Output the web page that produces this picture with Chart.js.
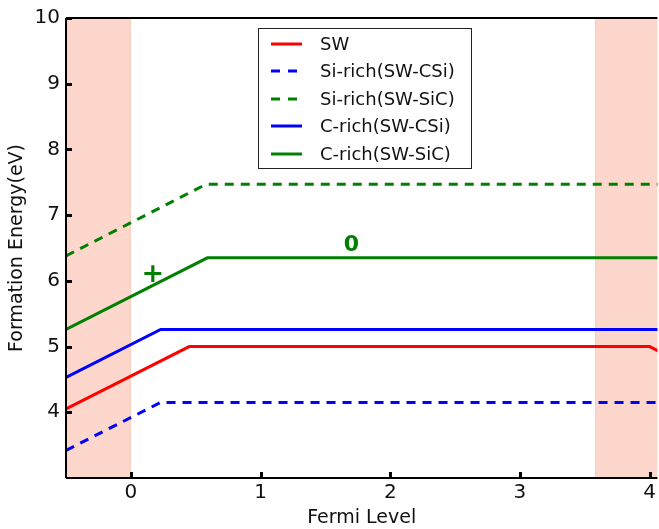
<!DOCTYPE html>
<html>
<head>
<meta charset="utf-8">
<script src="https://cdn.jsdelivr.net/npm/chart.js@4.4.0/dist/chart.umd.min.js"></script>
<style>
  html, body { margin: 0; padding: 0; background: #fff; }
  #wrap { width: 659px; height: 529px; }
</style>
</head>
<body>
<div id="wrap"><canvas id="chart" width="659" height="529"></canvas></div>
<script>
'use strict';

// Data
var swX = [-0.5, 0.45, 4.0, 4.1];
var swY = [4.05, 5.0, 5.0, 4.9];
var siCSiX = [-0.5, 0.23, 4.1];
var siCSiY = [3.42, 4.15, 4.15];
var siSiCX = [-0.5, 0.58, 4.1];
var siSiCY = [6.38, 7.47, 7.47];
var cCSiX = [-0.5, 0.23, 4.1];
var cCSiY = [4.53, 5.26, 5.26];
var cSiCX = [-0.5, 0.59, 4.1];
var cSiCY = [5.26, 6.35, 6.35];

var xTicks = [0, 1, 2, 3, 4];
var yTicks = [4, 5, 6, 7, 8, 9, 10];

// shaded Fermi-level bands
var bandStart = [-0.5, 3.58];
var bandEnd = [0, 4.2];

// charge-state labels
var stateText = ['+', '0'];
var stateX = [0.17, 1.70];
var stateY = [6.09, 6.54];
var stateSize = [27, 22];

var FONT = "'DejaVu Sans', sans-serif";

function pts(xs, ys) {
    return xs.map(function(x, i) { return { x: x, y: ys[i] }; });
}

function line(label, xs, ys, color, dash) {
    return {
        label: label,
        data: pts(xs, ys),
        borderColor: color,
        backgroundColor: color,
        borderWidth: 3,
        borderDash: dash || [],
        pointRadius: 0,
        showLine: true,
        fill: false,
        tension: 0
    };
}

var datasets = [
    line('SW', swX, swY, '#ff0000'),
    line('Si-rich(SW-CSi)', siCSiX, siCSiY, '#0000ff', [9, 7]),
    line('Si-rich(SW-SiC)', siSiCX, siSiCY, '#008000', [9, 7]),
    line('C-rich(SW-CSi)', cCSiX, cCSiY, '#0000ff'),
    line('C-rich(SW-SiC)', cSiCX, cSiCY, '#008000')
];

// bands behind the lines
var bandsPlugin = {
    id: 'bands',
    beforeDatasetsDraw: function(chart) {
        var ctx = chart.ctx, a = chart.chartArea;
        var xs = chart.scales.x;
        ctx.save();
        ctx.beginPath();
        ctx.rect(a.left, a.top, a.right - a.left, a.bottom - a.top);
        ctx.clip();
        bandStart.forEach(function(s, i) {
            var x0 = xs.getPixelForValue(s);
            var x1 = xs.getPixelForValue(bandEnd[i]);
            ctx.fillStyle = '#fdd7cb';
            ctx.fillRect(x0, a.top, x1 - x0, a.bottom - a.top);
            ctx.strokeStyle = '#fccbbb';
            ctx.lineWidth = 1;
            ctx.beginPath();
            ctx.moveTo(x0 + 0.5, a.top); ctx.lineTo(x0 + 0.5, a.bottom);
            ctx.moveTo(x1 - 0.5, a.top); ctx.lineTo(x1 - 0.5, a.bottom);
            ctx.stroke();
        });
        ctx.restore();
    }
};

// frame, inward ticks, labels and legend
var decorPlugin = {
    id: 'decor',
    afterDatasetsDraw: function(chart) {
        var ctx = chart.ctx, a = chart.chartArea;
        var xs = chart.scales.x, ys = chart.scales.y;
        ctx.save();

        ctx.fillStyle = '#008000';
        ctx.textAlign = 'center';
        ctx.textBaseline = 'middle';
        stateText.forEach(function(t, i) {
            ctx.font = 'bold ' + stateSize[i] + 'px ' + FONT;
            ctx.fillText(t, xs.getPixelForValue(stateX[i]), ys.getPixelForValue(stateY[i]));
        });

        ctx.strokeStyle = '#000';
        ctx.lineWidth = 2;
        ctx.beginPath();
        ctx.moveTo(a.left, a.top); ctx.lineTo(a.right, a.top);
        ctx.moveTo(a.left, a.top); ctx.lineTo(a.left, a.bottom);
        ctx.moveTo(a.left, a.bottom); ctx.lineTo(a.right, a.bottom);
        ctx.stroke();

        ctx.lineWidth = 3;
        ctx.beginPath();
        xTicks.forEach(function(v) {
            var px = Math.round(xs.getPixelForValue(v)) + 0.5;
            ctx.moveTo(px, a.bottom); ctx.lineTo(px, a.bottom - 6);
        });
        yTicks.forEach(function(v) {
            var py = Math.round(ys.getPixelForValue(v)) + 0.5;
            ctx.moveTo(a.left, py); ctx.lineTo(a.left + 6, py);
        });
        ctx.stroke();

        // legend box
        var lx = 258, ly = 28, lw = 213, lh = 140;
        ctx.fillStyle = '#fff';
        ctx.fillRect(lx, ly, lw, lh);
        ctx.strokeStyle = '#222';
        ctx.lineWidth = 1;
        ctx.strokeRect(lx + 0.5, ly + 0.5, lw, lh);
        ctx.font = '18px ' + FONT;
        ctx.textAlign = 'left';
        ctx.textBaseline = 'middle';
        chart.data.datasets.forEach(function(ds, i) {
            var y = Math.round(43.5 + i * 27.5);
            ctx.strokeStyle = ds.borderColor;
            ctx.lineWidth = 3;
            ctx.setLineDash(ds.borderDash.length ? [9, 8] : []);
            ctx.beginPath();
            ctx.moveTo(lx + 13, y); ctx.lineTo(lx + 44, y);
            ctx.stroke();
            ctx.setLineDash([]);
            ctx.fillStyle = '#111';
            ctx.fillText(ds.label, lx + 62, y + 1);
        });

        ctx.restore();
    }
};

var chart = new Chart(document.getElementById('chart'), {
    type: 'scatter',
    data: { datasets: datasets },
    plugins: [bandsPlugin, decorPlugin],
    options: {
        responsive: false,
        devicePixelRatio: 1,
        animation: false,
        layout: { padding: { top: 18, right: 0, left: 0, bottom: 0 } },
        plugins: {
            legend: { display: false },
            tooltip: { enabled: false }
        },
        scales: {
            x: {
                type: 'linear',
                min: -0.5,
                max: 4.06,
                grid: { display: false, drawTicks: false },
                border: { display: false },
                afterBuildTicks: function(scale) {
                    scale.ticks = xTicks.map(function(v) { return { value: v }; });
                },
                afterFit: function(scale) { scale.height = 51; },
                ticks: {
                    color: '#111',
                    font: { family: FONT, size: 20 },
                    padding: 3,
                    maxRotation: 0
                },
                title: {
                    display: true,
                    text: 'Fermi Level',
                    color: '#111',
                    font: { family: FONT, size: 19 },
                    padding: { top: 0, bottom: 0 }
                }
            },
            y: {
                type: 'linear',
                min: 3,
                max: 10,
                grid: { display: false, drawTicks: false },
                border: { display: false },
                afterBuildTicks: function(scale) {
                    scale.ticks = yTicks.map(function(v) { return { value: v }; });
                },
                afterFit: function(scale) { scale.width = 66; },
                ticks: {
                    color: '#111',
                    font: { family: FONT, size: 20 },
                    padding: 6
                },
                title: {
                    display: true,
                    text: 'Formation Energy(eV)',
                    color: '#111',
                    font: { family: FONT, size: 19 },
                    padding: { top: 6, bottom: 0 }
                }
            }
        }
    }
});
</script>
</body>
</html>
